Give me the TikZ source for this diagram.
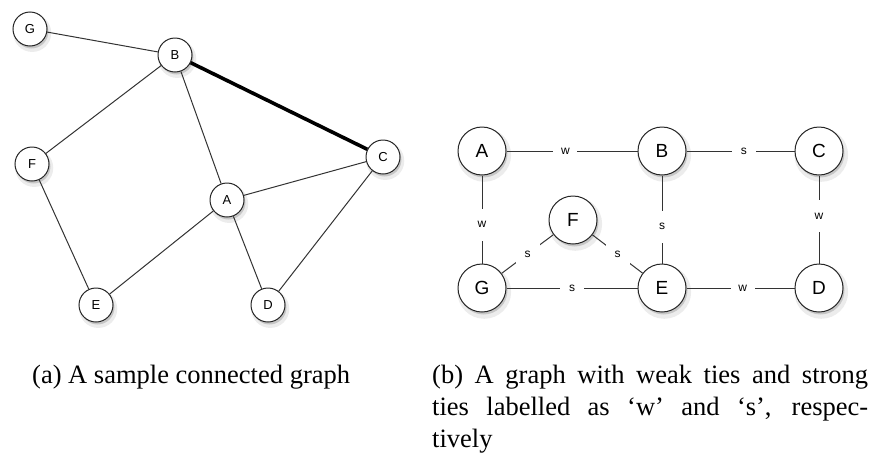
\documentclass[tikz,border=0pt]{standalone}
\usepackage{fontspec}
\setmainfont{Liberation Serif}
\newfontfamily\helvfont{Liberation Sans}
\usetikzlibrary{shadows,positioning}

\tikzset{
  vtx/.style={circle,draw=black!85,line width=1pt,fill=white,inner sep=0pt,
    drop shadow={shadow xshift=2pt,shadow yshift=-3.5pt,shadow scale=1.12,opacity=.15},
    drop shadow={shadow xshift=1.5pt,shadow yshift=-2.5pt,opacity=.35}},
  small vtx/.style={vtx,minimum size=34pt,font=\helvfont\fontsize{13}{13}\selectfont},
  big vtx/.style={vtx,minimum size=48pt,font=\helvfont\fontsize{19}{19}\selectfont},
  edge/.style={draw=black!80,line width=1pt},
  strong edge/.style={draw=black,line width=3.6pt},
  tie/.style={fill=white,inner sep=0pt,minimum width=24pt,minimum height=32pt,
    font=\helvfont\fontsize{12}{12}\selectfont},
  caption/.style={inner sep=0pt,align=left,font=\fontsize{26.5}{32}\selectfont}
}

\begin{document}
\begin{tikzpicture}[x=1pt,y=-1pt]
	\useasboundingbox (0,0) rectangle (874,461);

	% (a) sample connected graph
	\node[small vtx] (sG) at (30,29) {G};
	\node[small vtx] (sB) at (175,55) {B};
	\node[small vtx] (sF) at (32,164) {F};
	\node[small vtx] (sA) at (227,200) {A};
	\node[small vtx] (sC) at (383,157) {C};
	\node[small vtx] (sE) at (96,305) {E};
	\node[small vtx] (sD) at (268,305) {D};
	\foreach \a/\b in {G/B,B/F,B/A,F/E,A/C,A/E,A/D,C/D}
		\draw[edge] (s\a) -- (s\b);
	\draw[strong edge] (sB) -- (sC);

	% (b) weak and strong ties
	\node[big vtx] (tA) at (482,151) {A};
	\node[big vtx] (tB) at (662,151) {B};
	\node[big vtx] (tC) at (819,151) {C};
	\node[big vtx] (tF) at (573,220) {F};
	\node[big vtx] (tG) at (482,288) {G};
	\node[big vtx] (tE) at (662,288) {E};
	\node[big vtx] (tD) at (819,288) {D};
	\foreach \a/\b/\t/\p in {A/B/w/.45,B/C/s/.53,A/G/w/.56,B/E/s/.58,C/D/w/.46,
	                         G/F/s/.5,F/E/s/.5,G/E/s/.5,E/D/w/.52}
		\draw[edge] (t\a) -- node[tie,pos=\p] {\t} (t\b);

	% captions
	\node[caption,anchor=north west] (capA) at (32,365) {(a) A sample connected graph};
	\node[caption,anchor=north west] (capB) at (432,365)
		{\makebox[436pt][s]{(b) A graph with weak ties and strong}\\
		 \makebox[436pt][s]{ties labelled as `w' and `s', respec-}\\
		 tively};
\end{tikzpicture}
\end{document}
